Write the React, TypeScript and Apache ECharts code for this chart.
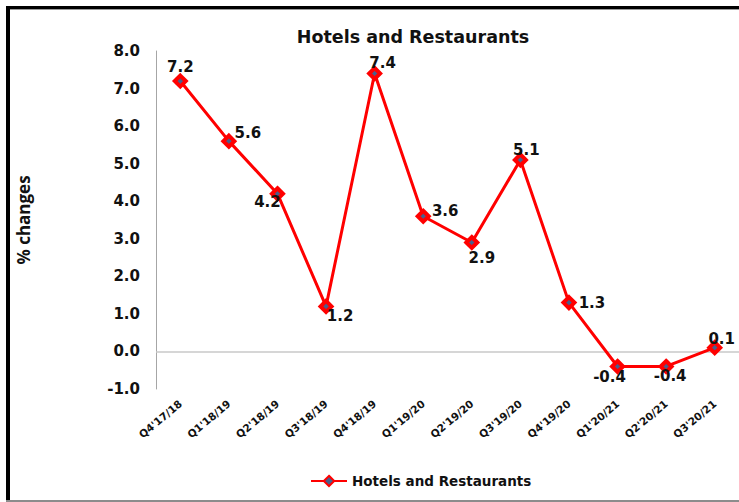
import React, { useEffect, useRef } from "react";
import * as echarts from "echarts";

const categories = ["Q4'17/18", "Q1'18/19", "Q2'18/19", "Q3'18/19", "Q4'18/19", "Q1'19/20", "Q2'19/20", "Q3'19/20", "Q4'19/20", "Q1'20/21", "Q2'20/21", "Q3'20/21"];
const values = [7.2, 5.6, 4.2, 1.2, 7.4, 3.6, 2.9, 5.1, 1.3, -0.4, -0.4, 0.1];
const labelOffsets: [number, number][] = [
  [0, -14], [19, -8], [-10, 8], [14, 10], [8, -11], [22, -5],
  [10, 15], [6, -10], [23, 0], [-8, 11], [4, 10], [7, -9],
];
const seriesName = "Hotels and Restaurants";
const yTicks = { min: -1, max: 8, interval: 1 };

export default function App() {
  const ref = useRef<HTMLDivElement>(null);
  useEffect(() => {
    if (!ref.current) return;
    const chart = echarts.init(ref.current, undefined, { renderer: "svg" });
    chart.setOption({
      animation: false,
      backgroundColor: "#ffffff",
      title: {
        text: "Hotels and Restaurants",
        left: 408,
        top: 23,
        textAlign: "center",
        textStyle: { fontFamily: "DejaVu Sans", fontWeight: "bold", fontSize: 17.5, color: "#111" },
      },
      legend: {
        bottom: 9,
        left: 305,
        itemWidth: 36,
        itemHeight: 13,
        itemGap: 4,
        textStyle: { fontFamily: "DejaVu Sans", fontWeight: "bold", fontSize: 13.5, color: "#111" },
        data: [seriesName],
      },
      grid: { left: 156, top: 51, width: 589, height: 338 },
      xAxis: {
        type: "category",
        data: categories,
        boundaryGap: true,
        axisLine: { show: false, onZero: false },
        axisTick: { show: false },
        axisLabel: {
          rotate: 40,
          margin: 13,
          interval: 0,
          fontFamily: "DejaVu Sans",
          fontWeight: "bold",
          fontSize: 10.5,
          color: "#111",
        },
      },
      yAxis: {
        type: "value",
        min: yTicks.min,
        max: yTicks.max,
        interval: yTicks.interval,
        name: "% changes",
        nameLocation: "middle",
        nameGap: 124,
        nameTextStyle: { fontFamily: "Open Sans", fontWeight: "bold", fontSize: 17, color: "#111" },
        axisLine: { show: true, lineStyle: { color: "#a6a6a6", width: 1 } },
        axisTick: { show: false },
        splitLine: { show: false },
        axisLabel: {
          margin: 16,
          fontFamily: "DejaVu Sans",
          fontWeight: "bold",
          fontSize: 15,
          color: "#111",
          formatter: (v: number) => v.toFixed(1),
        },
      },
      graphic: [
        { type: "rect", shape: { x: 6, y: 6, width: 740, height: 3 }, style: { fill: "#000" }, z: 100 },
        { type: "rect", shape: { x: 6, y: 6, width: 4, height: 496 }, style: { fill: "#000" }, z: 100 },
        { type: "rect", shape: { x: 10, y: 9, width: 730, height: 1 }, style: { fill: "#9a9a9a" }, z: 100 },
        { type: "rect", shape: { x: 6, y: 500, width: 740, height: 2 }, style: { fill: "#8c8c8c" }, z: 100 },
      ],
      series: [
        {
          name: seriesName,
          type: "line",
          data: values.map((v, i) => ({
            value: v,
            label: { offset: labelOffsets[i] },
          })),
          lineStyle: { color: "#ff0000", width: 3 },
          symbol: "diamond",
          symbolSize: 11,
          itemStyle: { color: "#4a5f8c", borderColor: "#ff0000", borderWidth: 4 },
          label: {
            show: true,
            position: "inside",
            fontFamily: "DejaVu Sans",
            fontWeight: "bold",
            fontSize: 15,
            color: "#111",
            formatter: (p: any) => Number(p.value).toFixed(1),
          },
          markLine: {
            silent: true,
            symbol: "none",
            label: { show: false },
            lineStyle: { color: "#c8c8c8", width: 1.5, type: "solid" },
            data: [{ yAxis: 0 }],
            z: 1,
          },
          z: 3,
        },
      ],
    });
    return () => chart.dispose();
  }, []);
  return (
    <div
      ref={ref}
      style={{ position: "absolute", left: 0, top: 0, width: 739, height: 502 }}
    />
  );
}
